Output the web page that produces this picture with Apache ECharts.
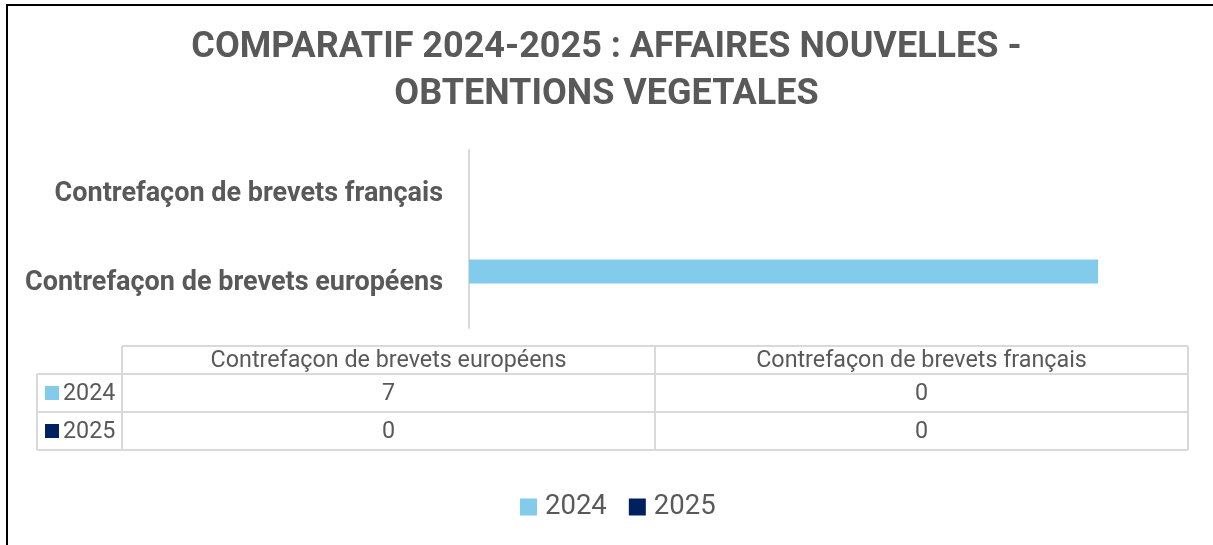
<!DOCTYPE html>
<html>
<head>
<meta charset="utf-8">
<script src="https://cdn.jsdelivr.net/npm/echarts@6/dist/echarts.min.js"></script>
<style>
  html, body { margin: 0; padding: 0; background: #fff; }
  #main { width: 1213px; height: 545px; }
</style>
</head>
<body>
<div id="main"></div>
<script>
var titleText = "COMPARATIF 2024-2025 : AFFAIRES NOUVELLES -\nOBTENTIONS VEGETALES";
var categories = ["Contrefaçon de brevets européens", "Contrefaçon de brevets français"];
var seriesNames = ["2024", "2025"];
var values2024 = [7, 0];
var values2025 = [0, 0];
var colors = ["#83cbeb", "#002060"];

var textColor = "#595959";
var lineColor = "#d9d9d9";

// table geometry
var tblLeft = 37, tblLabelRight = 122, tblRight = 1188;
var headTop = 346, rowTops = [374, 412], rowBottom = 450;
var tblFont = "23.3px Roboto";

function buildTable() {
  var els = [];
  var colW = (tblRight - tblLabelRight) / categories.length;
  var rows = [values2024, values2025];
  function line(x1, y1, x2, y2) {
    els.push({ type: "line", shape: { x1: x1, y1: y1, x2: x2, y2: y2 },
      style: { stroke: lineColor, lineWidth: 2 }, silent: true });
  }
  // horizontal lines
  line(tblLabelRight, headTop, tblRight, headTop);
  line(tblLeft, rowTops[0], tblRight, rowTops[0]);
  line(tblLeft, rowTops[1], tblRight, rowTops[1]);
  line(tblLeft, rowBottom, tblRight, rowBottom);
  // vertical lines
  line(tblLeft, rowTops[0], tblLeft, rowBottom);
  line(tblLabelRight, headTop, tblLabelRight, rowBottom);
  for (var c = 1; c <= categories.length; c++) {
    var x = tblLabelRight + colW * c;
    line(x, headTop, x, rowBottom);
  }
  // header
  categories.forEach(function (cat, i) {
    els.push({ type: "text", x: tblLabelRight + colW * (i + 0.5), y: (headTop + rowTops[0]) / 2 + 1,
      style: { text: cat, fill: textColor, font: tblFont, align: "center", verticalAlign: "middle" } });
  });
  // rows
  rows.forEach(function (vals, r) {
    var top = rowTops[r], bot = r + 1 < rowTops.length ? rowTops[r + 1] : rowBottom;
    var cy = (top + bot) / 2;
    els.push({ type: "rect", shape: { x: 45, y: cy - 7, width: 14, height: 14 }, style: { fill: colors[r] } });
    els.push({ type: "text", x: 63, y: cy + 1, style: { text: seriesNames[r], fill: textColor,
      font: tblFont, align: "left", verticalAlign: "middle" } });
    vals.forEach(function (v, i) {
      els.push({ type: "text", x: tblLabelRight + colW * (i + 0.5), y: cy + 1,
        style: { text: String(v), fill: textColor, font: tblFont, align: "center", verticalAlign: "middle" } });
    });
  });
  // outer frame of the chart area
  els.push({ type: "polyline", shape: { points: [[7, 545], [7, 5], [1213, 5]] },
    style: { stroke: "#000", lineWidth: 2, fill: null }, silent: true });
  return els;
}

var chart = echarts.init(document.getElementById("main"));
chart.setOption({
  animation: false,
  color: colors,
  title: {
    text: titleText,
    left: "center",
    top: 19,
    textStyle: { fontFamily: "Roboto", fontWeight: "bold", fontSize: 36, color: textColor, lineHeight: 47 }
  },
  legend: {
    data: seriesNames,
    top: 488,
    left: 515,
    icon: "rect",
    itemWidth: 17,
    itemHeight: 17,
    itemGap: 22,
    textStyle: { fontFamily: "Roboto", fontSize: 27.5, color: textColor, padding: [0, 0, 0, 3] }
  },
  grid: { left: 469, right: 25, top: 150, bottom: 217, containLabel: false },
  xAxis: {
    type: "value",
    min: 0,
    max: 8,
    axisLabel: { show: false },
    axisLine: { show: false },
    axisTick: { show: false },
    splitLine: { show: false }
  },
  yAxis: {
    type: "category",
    data: categories,
    axisLine: { show: true, lineStyle: { color: lineColor, width: 2 } },
    axisTick: { show: false },
    axisLabel: { margin: 26, fontFamily: "Roboto", fontWeight: "bold", fontSize: 27, color: textColor }
  },
  series: [
    { name: seriesNames[0], type: "bar", data: values2024, barWidth: 24, barGap: "0%" },
    { name: seriesNames[1], type: "bar", data: values2025, barWidth: 24, barGap: "0%" }
  ],
  graphic: buildTable()
});
</script>
</body>
</html>
